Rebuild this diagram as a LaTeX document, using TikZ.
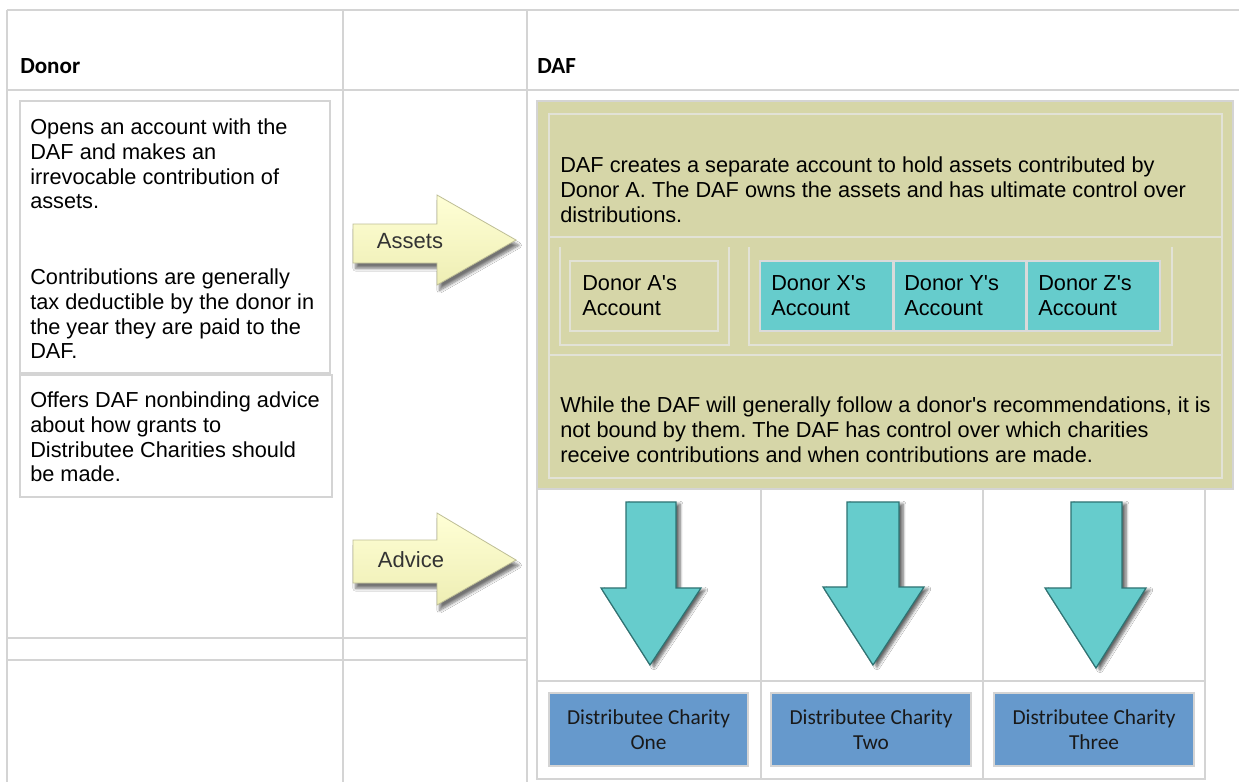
\documentclass[tikz,border=0pt]{standalone}
\usepackage{fontspec}
\setmainfont{Liberation Sans}
\newfontfamily\calfont{Carlito}
\usetikzlibrary{fit,shadows.blur}
\definecolor{gridc}{RGB}{212,212,212}
\definecolor{boxc}{RGB}{212,212,212}
\definecolor{khaki}{RGB}{214,214,168}
\definecolor{khakiline}{RGB}{226,226,214}
\definecolor{acctteal}{RGB}{102,204,204}
\definecolor{acctborder}{RGB}{218,218,218}
\definecolor{charblue}{RGB}{102,153,204}
\definecolor{charborder}{RGB}{212,212,212}
\definecolor{ylight}{RGB}{255,255,214}
\definecolor{ydark}{RGB}{238,238,180}
\definecolor{yline}{RGB}{190,190,150}
\definecolor{tealdark}{RGB}{45,115,115}
\frenchspacing
\begin{document}
\begin{tikzpicture}[x=0.75pt,y=-0.75pt,
  gridline/.style={draw=gridc, line width=1.5pt},
  lbox/.style={draw=boxc, line width=1.3pt, inner sep=0pt},
  body/.style={font=\frenchspacing\fontsize{16.3}{18.5}\selectfont, align=left, inner sep=0pt, anchor=north west, text=black},
  hdr/.style={font=\calfont\bfseries\fontsize{17.3}{20}\selectfont, inner sep=0pt, anchor=base west},
  panel/.style={fill=khaki, draw=gridc, line width=2pt, inner sep=0pt},
  innerline/.style={draw=khakiline, line width=1pt},
  ubox/.style={draw=khakiline, line width=1.5pt},
  abox/.style={fill=khaki, draw=khakiline, line width=1.8pt, inner sep=0pt},
  acct/.style={fill=acctteal, draw=acctborder, line width=1.5pt, inner sep=0pt},
  charity/.style={fill=charblue, draw=charborder, line width=1.5pt, inner sep=0pt},
  chartext/.style={font=\calfont\fontsize{16}{18.75}\selectfont, align=center, inner sep=0pt, text=black!90},
  yarrow/.style={top color=ylight, bottom color=ydark, draw=yline, line width=0.6pt,
    blur shadow={shadow xshift=2pt, shadow yshift=-4pt, shadow blur steps=8, shadow opacity=55}},
  darrow/.style={fill=acctteal, draw=tealdark, line width=0.9pt,
    blur shadow={shadow xshift=3pt, shadow yshift=-1.5pt, shadow blur steps=6, shadow opacity=60}},
  arrowtext/.style={font=\fontsize{16.5}{19}\selectfont, text=black!80, inner sep=0pt}
]
\useasboundingbox (0,0) rectangle (1239,782);
\fill[white] (0,0) rectangle (1239,782);

% outer table grid
\draw[gridline] (7,10) -- (1239,10);
\draw[gridline] (7,90) -- (1239,90);
\draw[gridline] (7,10) -- (7,782);
\draw[gridline] (343,10) -- (343,782);
\draw[gridline] (527,10) -- (527,782);
\draw[gridline] (7,638) -- (527,638);
\draw[gridline] (7,660) -- (527,660);

% headers
\node[hdr] (hdonor) at (20,73) {Donor};
\node[hdr] (hdaf) at (537,73) {DAF};

% donor boxes
\node[lbox, fit={(20,101) (330,373)}] (dbox1) {};
\node[lbox, fit={(20,375) (332,497)}] (dbox2) {};
\node[body] (dt1) at (30,118.7) {Opens an account with the\\DAF and makes an\\irrevocable contribution of\\assets.};
\node[body] (dt2) at (30,268.7) {Contributions are generally\\tax deductible by the donor in\\the year they are paid to the\\DAF.};
\node[body] (dt3) at (30,391.7) {Offers DAF nonbinding advice\\about how grants to\\Distributee Charities should\\be made.};

% yellow arrows
\path[yarrow] (353,224) -- (437,224) -- (437,195) -- (516,240) -- (437,285) -- (437,263) -- (353,263) -- cycle;
\node[arrowtext] (assets) at (410,241) {Assets};
\path[yarrow] (353,540) -- (437,540) -- (437,513) -- (516,560) -- (437,605) -- (437,583) -- (353,583) -- cycle;
\node[arrowtext] (advice) at (411,560) {Advice};

% DAF panel
\node[panel, fit={(537,101) (1233,489)}] (panel) {};
\draw[innerline] (549,114) rectangle (1222,478);
\draw[innerline] (549,237) -- (1222,237);
\draw[innerline] (549,355) -- (1222,355);
\draw[ubox] (560,247) -- (560,345) -- (729,345) -- (729,247);
\draw[ubox] (749,247) -- (749,345) -- (1172,345) -- (1172,247);
\node[body] (pt1) at (560,156.7) {DAF creates a separate account to hold assets contributed by\\Donor A. The DAF owns the assets and has ultimate control over\\distributions.};
\node[body] (pt2) at (560,396.7) {While the DAF will generally follow a donor\textquotesingle s recommendations, it is\\not bound by them. The DAF has control over which charities\\receive contributions and when contributions are made.};

\node[abox, fit={(570,261) (718,331)}] (acca) {};
\node[acct, fit={(760,261) (893,331)}] (accx) {};
\node[acct, fit={(894,261) (1026,331)}] (accy) {};
\node[acct, fit={(1027,261) (1160,331)}] (accz) {};
\node[body] (ta) at (582,275.7) {Donor A\textquotesingle s\\Account};
\node[body] (tx) at (771,275.7) {Donor X\textquotesingle s\\Account};
\node[body] (ty) at (904,275.7) {Donor Y\textquotesingle s\\Account};
\node[body] (tz) at (1038,275.7) {Donor Z\textquotesingle s\\Account};

% lower DAF table
\draw[gridline] (537,490) -- (537,779) -- (1205,779) -- (1205,490);
\draw[gridline] (761,490) -- (761,779);
\draw[gridline] (983,490) -- (983,779);
\draw[gridline] (537,681) -- (1205,681);

% down arrows
\path[darrow] (626,502) -- (676,502) -- (676,588) -- (701,588) -- (650,665) -- (601,588) -- (626,588) -- cycle;
\path[darrow] (847,502) -- (899,502) -- (899,587) -- (924,587) -- (873,665) -- (823,587) -- (847,587) -- cycle;
\path[darrow] (1071,502) -- (1122,502) -- (1122,588) -- (1146,588) -- (1096,668) -- (1045,588) -- (1071,588) -- cycle;

% charities
\node[charity, fit={(549,693) (748,766)}] (c1) {};
\node[charity, fit={(771,693) (971,766)}] (c2) {};
\node[charity, fit={(994,693) (1194,766)}] (c3) {};
\node[chartext] (c1t) at (c1.center) {Distributee Charity\\One};
\node[chartext] (c2t) at (c2.center) {Distributee Charity\\Two};
\node[chartext] (c3t) at (c3.center) {Distributee Charity\\Three};
\end{tikzpicture}
\end{document}
